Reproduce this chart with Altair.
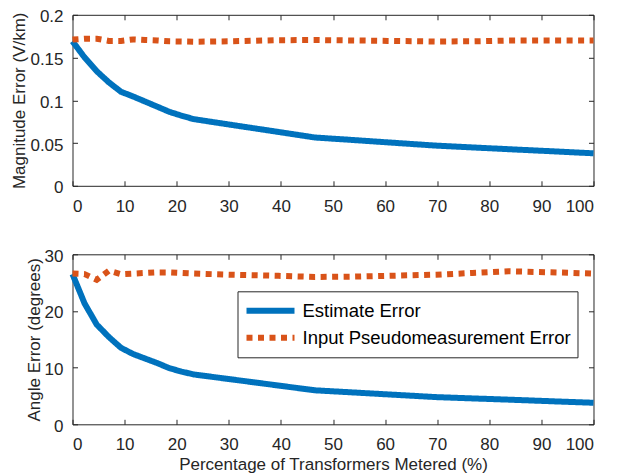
import altair as alt
import pandas as pd

FONT = "Liberation Sans"
AX = "#262626"

# ---- data ----
x_pct = [0, 2.33, 4.65, 6.98, 9.30, 11.63, 13.95, 16.28, 18.60, 20.93, 23.26,
         30.23, 39.53, 46.51, 53.49, 60.47, 69.77, 76.74, 83.72, 93.02, 100]
mag_est = [0.169, 0.150, 0.134, 0.121, 0.110, 0.1045, 0.0985, 0.0925, 0.0865, 0.082, 0.078,
           0.0715, 0.0630, 0.0565, 0.0537, 0.0508, 0.047, 0.0449, 0.0428, 0.0401, 0.038]
mag_inp = [0.171, 0.172, 0.172, 0.1695, 0.1695, 0.1712, 0.1705, 0.170, 0.169, 0.1688, 0.1685,
           0.169, 0.1703, 0.1705, 0.170, 0.1695, 0.1688, 0.169, 0.1698, 0.170, 0.170]
ang_est = [26.5, 21.3, 17.6, 15.4, 13.5, 12.4, 11.6, 10.8, 9.9, 9.3, 8.8,
           7.96, 6.84, 6.0, 5.64, 5.28, 4.8, 4.57, 4.35, 4.03, 3.8]
ang_inp = [26.6, 26.5, 25.5, 27.1, 26.5, 26.6, 26.7, 26.8, 26.8, 26.7, 26.6,
           26.4, 26.2, 26.0, 26.05, 26.2, 26.4, 26.7, 27.0, 26.8, 26.6]
series_names = ["Estimate Error", "Input Pseudomeasurement Error"]
x_ticks = [0, 10, 20, 30, 40, 50, 60, 70, 80, 90, 100]
mag_ticks = [0, 0.05, 0.1, 0.15, 0.2]
ang_ticks = [0, 10, 20, 30]
series_colors = ["#0072BD", "#D95319"]
series_dash = [[1, 0], [6, 5.5]]


def long_df(est, inp):
    rows = []
    for name, vals in zip(series_names, [est, inp]):
        for xv, yv in zip(x_pct, vals):
            rows.append({"x": xv, "v": yv, "series": name})
    return pd.DataFrame(rows)


def panel(df, ytitle, ydomain, yticks, height, legend, xtitle):
    xs = alt.Scale(domain=[0, 100], nice=False, zero=False)
    ys = alt.Scale(domain=ydomain, nice=False, zero=False)
    common = dict(offset=-5, tickSize=5, domain=False, grid=False,
                  tickColor=AX, tickWidth=1, minExtent=0)
    x_axis = alt.Axis(orient="bottom", values=x_ticks, labelPadding=12.5,
                      titlePadding=4, **common)
    y_axis = alt.Axis(orient="left", values=yticks, format="~r", labelOffset=2,
                      labelPadding=9.5, titlePadding=1, **common)
    col = alt.Color("series:N", scale=alt.Scale(domain=series_names, range=series_colors),
                    legend=legend)
    dash = alt.StrokeDash("series:N", scale=alt.Scale(domain=series_names, range=series_dash),
                          legend=legend)
    lines = alt.Chart(df).mark_line(strokeWidth=6, strokeCap="butt").encode(
        x=alt.X("x:Q", scale=xs, axis=x_axis, title=xtitle),
        y=alt.Y("v:Q", scale=ys, axis=y_axis, title=ytitle),
        color=col,
        strokeDash=dash,
        order=alt.Order("x:Q"),
    )
    mirror = alt.Chart(df).mark_line(opacity=0).encode(
        x=alt.X("x:Q", scale=xs, title=None,
                axis=alt.Axis(orient="top", values=x_ticks, labels=False, **common)),
        y=alt.Y("v:Q", scale=ys, title=None,
                axis=alt.Axis(orient="right", values=yticks, labels=False, **common)),
        detail="series:N",
    )
    return alt.layer(lines, mirror).properties(width=521, height=height)


legend = alt.Legend(
    title=None, orient="none", legendX=165, legendY=37, direction="vertical",
    strokeColor=AX, fillColor="white", padding=6, cornerRadius=0,
    symbolType="stroke", symbolSize=2304, symbolStrokeWidth=6,
    labelFont=FONT, labelFontSize=18.5, labelColor="#000000", labelOffset=5,
    labelLimit=500, clipHeight=27, rowPadding=0,
)

top = panel(long_df(mag_est, mag_inp), "Magnitude Error (V/km)", [0, 0.2], mag_ticks,
            171, None, None)
bottom = panel(long_df(ang_est, ang_inp), "Angle Error (degrees)", [0, 30], ang_ticks,
               170, legend, "Percentage of Transformers Metered (%)")

chart = alt.vconcat(top, bottom, spacing=31.5).resolve_scale(
    color="independent", strokeDash="independent"
).resolve_legend(
    color="independent", strokeDash="independent"
).properties(
    padding={"left": 1.5, "top": -1.2, "right": 0, "bottom": 0},
    background="white",
).configure_view(
    stroke=AX, strokeWidth=1
).configure_axis(
    labelFont=FONT, labelFontSize=17, labelColor=AX,
    titleFont=FONT, titleFontSize=17, titleFontWeight="normal", titleColor=AX,
)

chart.save("out.html", embed_options={"renderer": "svg", "actions": False})
